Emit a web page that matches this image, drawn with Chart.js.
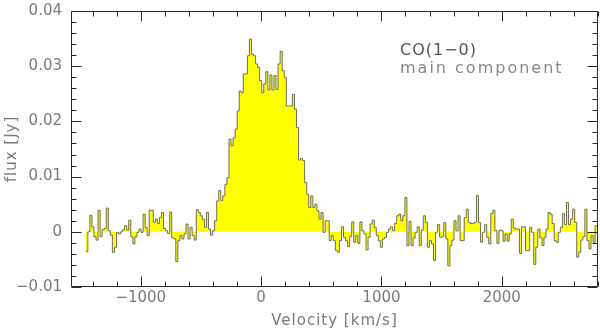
<!DOCTYPE html>
<html>
<head>
<meta charset="utf-8">
<script src="https://cdn.jsdelivr.net/npm/chart.js@4.4.1/dist/chart.umd.min.js"></script>
<style>
  html, body { margin: 0; padding: 0; background: #fff; }
  #wrap { width: 600px; height: 330px; }
</style>
</head>
<body>
<div id="wrap"><canvas id="spectrum" width="600" height="330"></canvas></div>
<script>
// channel grid (km/s): left edge of first channel and channel width
const velStart = -1457;
const velStep = 17;

// flux per channel, in mJy left to right
const fluxMJy = [
    -3.6,
    0.0, 3.0, 0.9, -0.9, -1.5, 3.9, -0.9, 0.4, 0.6, 4.3,
    0.2, -0.6, -3.7, -2.8, -0.1, -0.4, 0.0, 0.4, 1.1, 0.3,
    2.1, -0.9, -2.2, -0.9, -0.1, 0.5, -0.1, 3.2, 0.8, -0.7,
    3.9, 3.9, 1.7, 2.3, 1.5, 2.6, 3.5, 0.6, 0.2, -0.3,
    3.6, -1.1, -1.3, -5.4, -1.6, -0.7, -1.3, -0.4, 1.4, -1.3,
    0.8, -0.7, -1.5, 4.0, 3.5, 2.9, 2.3, 0.8, 3.5, 0.5,
    -0.6, 0.2, 2.0, 5.6, 7.5, 5.6, 6.5, 8.6, 9.8,
    16.8, 15.6, 17.0, 18.6, 21.9, 25.5, 25.2, 28.6, 28.6, 31.9,
    34.9, 32.2, 31.9, 30.4, 29.8, 27.4, 25.2, 26.8, 29.0, 25.7,
    28.4, 25.7, 28.3, 25.8, 30.4, 32.7, 29.2, 28.0, 22.8, 22.8,
    22.8, 24.9, 22.2, 18.9,
    13.0, 13.3, 12.9, 8.9, 6.8, 4.4, 6.5, 4.4, 5.0, 3.8,
    2.3, 3.5, -0.1, 2.0, 2.0, -1.6, -0.7, -1.6, -3.4, -3.7,
    -1.6, 0.9, -1.0, -1.6, -2.7, -0.9, 1.8, -1.9, -0.7, -2.1,
    1.8, 0.2, -0.4, -3.3, -1.0, 1.4, 2.1, 0.8, -0.7, -1.6,
    -2.8, -1.3, -1.0, -0.1, 0.5, 0.9, 0.2, 1.5, 2.9,
    3.2, 2.0, 2.9, 6.2, -2.5, 1.9, -2.5, -1.1, -0.1, 0.9,
    -2.5, 0.3, 2.9, 1.7, -2.8, -1.6, -2.2, -5.2, -0.1, 1.3,
    -1.0, -0.9, 1.7, -1.3, -6.2,
    -2.5, -1.5, 2.0, 0.2, 2.9, -1.6, -1.6, 2.6, 4.1, 1.7,
    1.5, 1.5, 1.7, 6.6, 1.7, -1.9, -0.1, 1.3, -1.0, -2.2,
    3.3, 3.9, 0.2, -2.1, 0.3, 0.2, -1.7, -0.4, -1.7, -0.4,
    2.3, 0.7, 0.5, 0.5, -3.9, 0.9, 0.9, -3.4, -3.4, 0.8, -0.1,
    -5.9, -2.8, 0.5, -1.1, -2.5, -1.0, 0.5, 3.5, 3.2, 1.5,
    -1.6, -1.9, -0.1, 0.8, 3.3, 1.3, 5.3, 1.3, 2.3, 4.1,
    1.7, -4.6, -3.7, -1.5, -0.9, 4.1, -1.6, -3.1, -0.7, -1.9,
    1.1, 1.1, -0.7, 0.5
];

// axis ranges and labelled ticks
const velRange = [-1580, 2800];
const fluxRange = [-0.01, 0.04];
const velTicks = [-1000, 0, 1000, 2000];
const fluxTicks = [-0.01, 0, 0.01, 0.02, 0.03, 0.04];
const velMinorStep = 200;
const fluxMinorStep = 0.002;

const xTitle = 'Velocity [km/s]';
const yTitle = 'flux [Jy]';
const noteLines = ['CO(1\u22120)', 'main component'];

// step points: each channel value held from its left edge to the next one
const points = fluxMJy.map((f, i) => ({ x: velStart + i * velStep, y: f / 1000 }));
points.push({ x: velStart + fluxMJy.length * velStep, y: fluxMJy[fluxMJy.length - 1] / 1000 });

const FONT = "'DejaVu Sans', 'Liberation Sans', sans-serif";
const LABEL_GREY = '#7a7a7a';

function minus(s) { return String(s).replace('-', '\u2212'); }

const frameTicks = {
    id: 'frameTicks',
    afterDraw(chart) {
        const { ctx, chartArea: a, scales: { x, y } } = chart;
        ctx.save();
        ctx.strokeStyle = '#2a2a2a';
        ctx.lineWidth = 1;
        const L = Math.round(a.left) + 0.5, R = Math.round(a.right) - 0.5;
        const T = Math.round(a.top) + 0.5, B = Math.round(a.bottom) - 0.5;
        ctx.beginPath();
        ctx.rect(L, T, R - L, B - T);

        // x ticks, top and bottom, pointing inward
        const v0 = Math.ceil(velRange[0] / velMinorStep) * velMinorStep;
        for (let v = v0; v <= velRange[1]; v += velMinorStep) {
            const len = velTicks.includes(v) ? 10 : 5;
            const px = Math.round(x.getPixelForValue(v)) + 0.5;
            ctx.moveTo(px, B); ctx.lineTo(px, B - len);
            ctx.moveTo(px, T); ctx.lineTo(px, T + len);
        }
        // y ticks, left and right
        const k0 = Math.round(fluxRange[0] / fluxMinorStep), k1 = Math.round(fluxRange[1] / fluxMinorStep);
        for (let k = k0; k <= k1; k++) {
            const v = k * fluxMinorStep;
            const len = fluxTicks.some(t => Math.abs(t - v) < 1e-9) ? 10 : 5;
            const py = Math.round(y.getPixelForValue(v)) + 0.5;
            ctx.moveTo(L, py); ctx.lineTo(L + len, py);
            ctx.moveTo(R, py); ctx.lineTo(R - len, py);
        }
        ctx.stroke();

        // axis titles
        ctx.fillStyle = LABEL_GREY;
        ctx.font = '15px ' + FONT;
        ctx.textAlign = 'center';
        ctx.textBaseline = 'middle';
        try { ctx.letterSpacing = '1px'; } catch (e) {}
        ctx.fillText(xTitle, (a.left + a.right) / 2, 321);
        ctx.save();
        ctx.translate(12, (a.top + a.bottom) / 2);
        ctx.rotate(-Math.PI / 2);
        ctx.fillText(yTitle, 0, 0);
        ctx.restore();

        // annotation
        ctx.textAlign = 'left';
        ctx.textBaseline = 'alphabetic';
        ctx.font = '16px ' + FONT;
        ctx.fillStyle = '#555';
        try { ctx.letterSpacing = '1px'; } catch (e) {}
        ctx.fillText(noteLines[0], 400, 55);
        ctx.fillStyle = '#888';
        try { ctx.letterSpacing = '2px'; } catch (e) {}
        ctx.fillText(noteLines[1], 400, 73);
        ctx.restore();
    }
};

// invisible tick marks, only used to push the labels away from the frame
const hiddenTickGrid = (len) => ({
    display: true,
    drawOnChartArea: false,
    drawTicks: true,
    tickLength: len,
    color: 'rgba(0,0,0,0)'
});

new Chart(document.getElementById('spectrum').getContext('2d'), {
    type: 'line',
    data: {
        datasets: [{
            data: points,
            stepped: 'before',
            fill: 'origin',
            backgroundColor: '#ffff00',
            borderColor: '#6e6e58',
            borderWidth: 1,
            pointRadius: 0,
            tension: 0
        }]
    },
    options: {
        responsive: false,
        animation: false,
        layout: { padding: { top: 11, right: 2, left: 0, bottom: 0 } },
        plugins: { legend: { display: false }, tooltip: { enabled: false } },
        scales: {
            x: {
                type: 'linear',
                min: velRange[0],
                max: velRange[1],
                grid: hiddenTickGrid(2),
                border: { display: false },
                afterFit(s) { s.height = 43; },
                afterBuildTicks(s) { s.ticks = velTicks.map(v => ({ value: v })); },
                ticks: {
                    autoSkip: false,
                    padding: 0,
                    maxRotation: 0,
                    color: LABEL_GREY,
                    font: { family: FONT, size: 15 },
                    callback: v => minus(v)
                }
            },
            y: {
                type: 'linear',
                min: fluxRange[0],
                max: fluxRange[1],
                grid: hiddenTickGrid(9),
                border: { display: false },
                afterFit(s) { s.width = 71; },
                afterBuildTicks(s) { s.ticks = fluxTicks.map(v => ({ value: v })); },
                ticks: {
                    autoSkip: false,
                    padding: 0,
                    color: LABEL_GREY,
                    font: { family: FONT, size: 15 },
                    callback: v => Math.abs(v) < 1e-9 ? '0' : minus(v.toFixed(2))
                }
            }
        }
    },
    plugins: [frameTicks]
});
</script>
</body>
</html>
